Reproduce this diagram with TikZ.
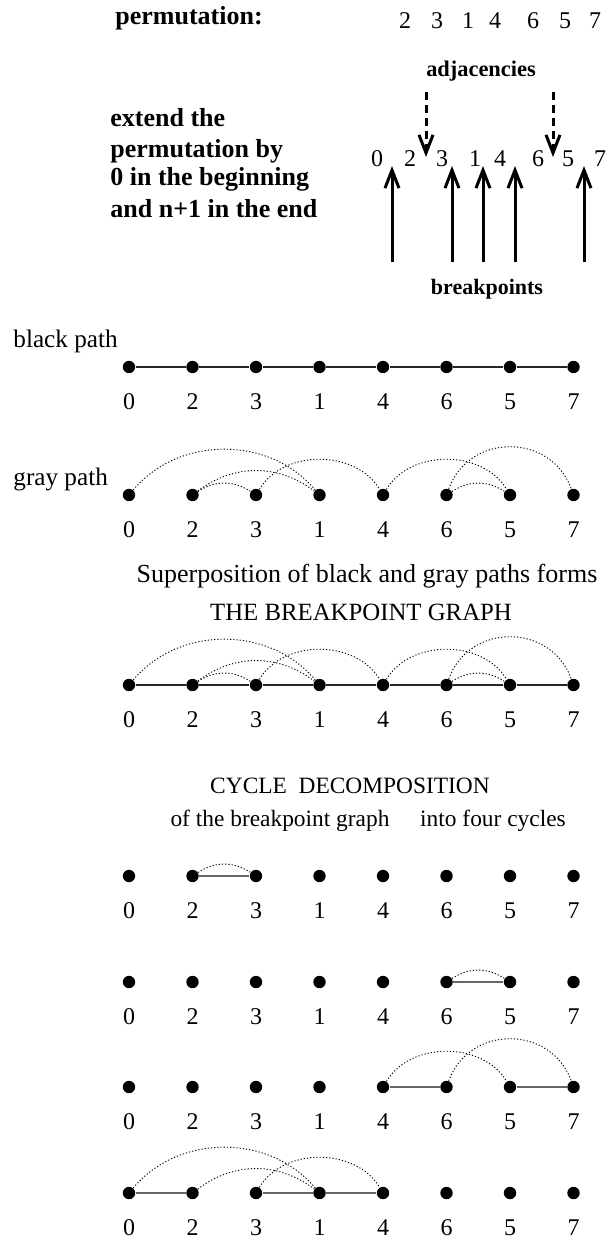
\documentclass[tikz,border=0pt]{standalone}
\usepackage{fontspec}
\setmainfont{Liberation Serif}
\usetikzlibrary{arrows.meta}

\begin{document}
\begin{tikzpicture}[x=0.5pt, y=0.5pt,
    vtx/.style={circle, fill=black, inner sep=0pt, minimum size=6.2pt},
    num/.style={font=\fontsize{12}{14}\selectfont},
    txt/.style={inner sep=0pt, font=\fontsize{12.6}{15}\selectfont},
    hdr/.style={inner sep=0pt, font=\bfseries\fontsize{13}{15}\selectfont},
    blk/.style={line width=0.6pt, black!85},
    cyc/.style={line width=0.75pt, black!60},
    gry/.style={line width=0.45pt, dash pattern=on 0.6pt off 1pt},
    brk/.style={line width=1.5pt, -{Straight Barb[length=9pt, width=7pt]}},
    adj/.style={brk, dash pattern=on 4pt off 2.5pt}]
  \useasboundingbox (0,0) rectangle (609,-1241);

  % the permutation and its extension
  \node[hdr, anchor=base] (perm) at (189,-25) {permutation:};
  \foreach \v/\x in {2/405, 3/437, 1/468, 4/495, 6/533, 5/565, 7/595}
    \node[num, anchor=base] (p\v) at (\x,-29) {\v};
  \node[hdr, anchor=base west] (ext1) at (110,-127) {extend the};
  \node[hdr, anchor=base west] (ext2) at (110,-158) {permutation by};
  \node[hdr, anchor=base west] (ext3) at (110,-186) {0 in the beginning};
  \node[hdr, anchor=base west] (ext4) at (110,-218) {and n+1 in the end};
  \foreach \v/\x in {0/377, 2/410, 3/442, 1/475, 4/500, 6/538, 5/568, 7/600}
    \node[num, anchor=base] (x\v) at (\x,-167) {\v};

  % adjacencies (dashed) and breakpoints (solid)
  \node[hdr, anchor=base, font=\bfseries\fontsize{11.2}{13}\selectfont] (adjlab) at (481,-77) {adjacencies};
  \foreach \x [count=\k] in {426, 553} {
    \coordinate (ad\k) at (\x,-92);
    \coordinate (at\k) at (\x,-157);
    \draw[adj] (ad\k) -- (at\k);
  }
  \foreach \x [count=\k] in {392, 452, 483, 515, 584} {
    \coordinate (bk\k) at (\x,-262);
    \coordinate (tk\k) at (\x,-166);
    \draw[brk] (bk\k) -- (tk\k);
  }
  \node[hdr, anchor=base, font=\bfseries\fontsize{11}{13}\selectfont] (brklab) at (487,-294) {breakpoints};

  % rows of vertices: 0 2 3 1 4 6 5 7
  \foreach \row/\y in {bp/367, gp/495, bg/685, ca/876, cb/982, cc/1087, cd/1193}
    \foreach \v [count=\i from 0] in {0,2,3,1,4,6,5,7} {
      \node[vtx] (\row\v) at ({129+63.5*\i},-\y) {};
      \node[num] (\row l\v) at ({129+63.5*\i},-\y-35) {\v};
    }

  % black path
  \node[txt, anchor=base west] (blab) at (13,-347) {black path};
  \draw[blk] (bp0) -- (bp2) -- (bp3) -- (bp1) -- (bp4) -- (bp6) -- (bp5) -- (bp7);

  % gray path
  \node[txt, anchor=base west] (glab) at (13,-485) {gray path};
  \foreach \row in {gp, bg}
    \foreach \a/\b/\ang/\lo in {0/1/50/1, 2/1/37/1, 2/3/33/1, 3/4/59/1,
                                4/5/59/1, 6/5/33/1, 6/7/70/1.25}
      \draw[gry] (\row\a) to[bend left=\ang, looseness=\lo] (\row\b);

  % breakpoint graph
  \node[txt, anchor=base, font=\fontsize{13}{15}\selectfont] (sup) at (367,-582) {Superposition of black and gray paths forms};
  \node[txt, anchor=base, font=\fontsize{12.4}{15}\selectfont] (tbg) at (361,-620) {THE BREAKPOINT GRAPH};
  \draw[blk] (bg0) -- (bg2) -- (bg3) -- (bg1) -- (bg4) -- (bg6) -- (bg5) -- (bg7);

  % cycle decomposition
  \node[txt, anchor=base, font=\fontsize{11.7}{14}\selectfont] (cdec) at (350,-793) {CYCLE\ \ DECOMPOSITION};
  \node[txt, anchor=base, font=\fontsize{11.7}{14}\selectfont] (ofbg) at (280,-826) {of the breakpoint graph};
  \node[txt, anchor=base, font=\fontsize{11.7}{14}\selectfont] (four) at (493,-826) {into four cycles};

  \draw[cyc] (ca2) -- (ca3);
  \draw[gry] (ca2) to[bend left=33] (ca3);

  \draw[cyc] (cb6) -- (cb5);
  \draw[gry] (cb6) to[bend left=33] (cb5);

  \draw[cyc] (cc4) -- (cc6) (cc5) -- (cc7);
  \draw[gry] (cc4) to[bend left=59] (cc5) (cc6) to[bend left=70, looseness=1.25] (cc7);

  \draw[cyc] (cd0) -- (cd2) (cd3) -- (cd1) -- (cd4);
  \draw[gry] (cd0) to[bend left=50] (cd1) (cd2) to[bend left=37] (cd1)
             (cd3) to[bend left=59] (cd4);
\end{tikzpicture}
\end{document}
